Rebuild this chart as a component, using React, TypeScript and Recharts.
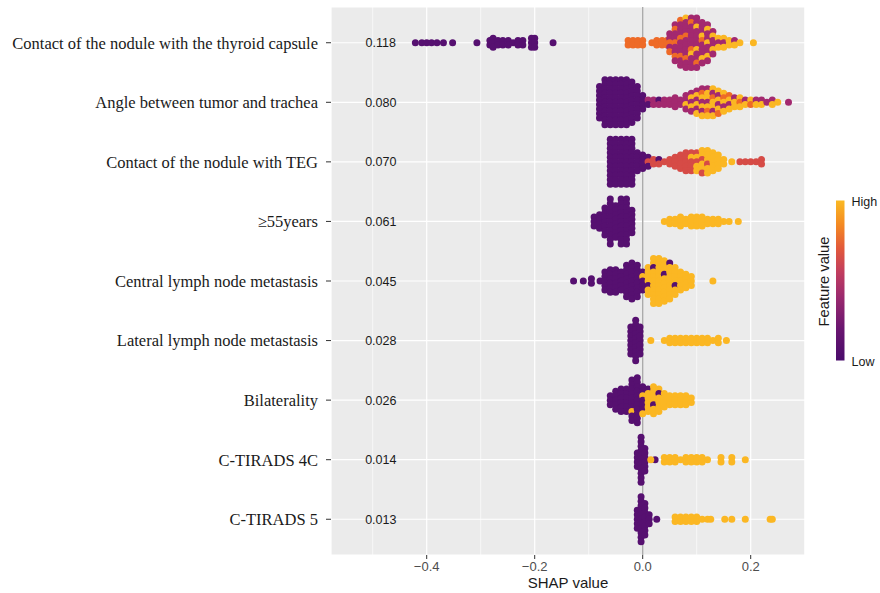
import React from 'react';
import { ScatterChart, Scatter, XAxis, YAxis, CartesianGrid, ReferenceLine, Label } from 'recharts';

const features = [
  'Contact of the nodule with the thyroid capsule',
  'Angle between tumor and trachea',
  'Contact of the nodule with TEG',
  '\u226555years',
  'Central lymph node metastasis',
  'Lateral lymph node metastasis',
  'Bilaterality',
  'C-TIRADS 4C',
  'C-TIRADS 5',
];
const importance = ['0.118', '0.080', '0.070', '0.061', '0.045', '0.028', '0.026', '0.014', '0.013'];
const xTicks = [-0.4, -0.2, 0, 0.2];
const minorX = [-0.5, -0.3, -0.1, 0.1, 0.3];
const rowTicks = [1, 2, 3, 4, 5, 6, 7, 8, 9];
// feature-value colour levels: 0 low ... 4 high
const palette = ['#561070', '#A3296F', '#D64B46', '#EE6A27', '#FBB723'];

// [SHAP value, number of samples, feature-value level]
type Bin = [number, number, number];
const capsuleBins: Bin[] = [
  [-0.421, 1, 0], [-0.409, 1, 0], [-0.4, 1, 0], [-0.391, 1, 0], [-0.381, 1, 0], [-0.369, 1, 0], [-0.352, 1, 0],
  [-0.307, 1, 0], [-0.283, 2, 0], [-0.277, 3, 0], [-0.268, 2, 0], [-0.259, 2, 0], [-0.249, 2, 0], [-0.24, 1, 0],
  [-0.231, 2, 0], [-0.222, 2, 0], [-0.206, 3, 0], [-0.2, 3, 0], [-0.166, 1, 0],
  [-0.027, 2, 3], [-0.018, 2, 3], [-0.009, 2, 3], [0.0, 2, 3], [0.017, 1, 3], [0.026, 2, 3], [0.036, 2, 3], [0.045, 2, 3],
  [0.05, 3, 1], [0.05, 2, 3],
  [0.06, 6, 1], [0.06, 3, 3],
  [0.07, 8, 1], [0.07, 3, 3],
  [0.08, 9, 1], [0.08, 2, 3], [0.08, 1, 4],
  [0.09, 9, 1], [0.09, 2, 3], [0.09, 1, 4],
  [0.1, 9, 1], [0.1, 1, 3], [0.1, 2, 4],
  [0.11, 7, 1], [0.11, 1, 3], [0.11, 2, 4],
  [0.12, 6, 1], [0.12, 3, 4],
  [0.13, 4, 1], [0.13, 2, 4],
  [0.14, 1, 1], [0.14, 2, 4],
  [0.15, 1, 1], [0.15, 2, 4],
  [0.16, 2, 4],
  [0.17, 1, 1], [0.17, 1, 4],
  [0.18, 1, 4],
  [0.205, 1, 4],
];
const angleBins: Bin[] = [
  [-0.08, 8, 0], [-0.07, 11, 0], [-0.06, 11, 0], [-0.05, 11, 0], [-0.04, 11, 0], [-0.03, 11, 0], [-0.02, 10, 0],
  [-0.01, 8, 0], [0.0, 4, 0],
  [0.01, 1, 0], [0.01, 1, 1], [0.02, 2, 1], [0.03, 1, 1], [0.03, 1, 0], [0.04, 2, 1], [0.05, 2, 1], [0.06, 3, 1], [0.07, 2, 1],
  [0.08, 3, 1], [0.08, 1, 4],
  [0.09, 3, 1], [0.09, 2, 4],
  [0.1, 3, 1], [0.1, 3, 4],
  [0.11, 3, 1], [0.11, 3, 4], [0.11, 1, 3],
  [0.12, 2, 1], [0.12, 4, 4], [0.12, 1, 3],
  [0.13, 2, 1], [0.13, 4, 4], [0.13, 1, 3],
  [0.14, 2, 1], [0.14, 3, 4], [0.14, 1, 3],
  [0.15, 1, 1], [0.15, 3, 4], [0.15, 1, 3],
  [0.16, 1, 1], [0.16, 2, 4], [0.16, 1, 3],
  [0.17, 1, 1], [0.17, 2, 4],
  [0.18, 2, 4], [0.18, 1, 3],
  [0.19, 1, 1], [0.19, 1, 4],
  [0.2, 1, 3], [0.2, 1, 4],
  [0.21, 1, 1], [0.21, 1, 4],
  [0.22, 1, 1], [0.22, 1, 4],
  [0.23, 1, 1],
  [0.24, 1, 4], [0.24, 1, 1],
  [0.25, 1, 4],
  [0.27, 1, 1],
];
const tegBins: Bin[] = [
  [-0.06, 11, 0], [-0.05, 11, 0], [-0.04, 11, 0], [-0.03, 11, 0], [-0.02, 11, 0], [-0.01, 5, 0], [0.0, 4, 0], [0.01, 2, 0],
  [0.01, 1, 2], [0.02, 2, 2], [0.03, 1, 0], [0.03, 1, 2], [0.04, 1, 2],
  [0.05, 2, 2], [0.06, 3, 2], [0.07, 4, 2], [0.08, 5, 2],
  [0.09, 4, 2], [0.09, 1, 4],
  [0.1, 2, 2], [0.1, 3, 4],
  [0.11, 2, 2], [0.11, 4, 4],
  [0.12, 1, 2], [0.12, 5, 4],
  [0.13, 5, 4], [0.14, 4, 4], [0.15, 2, 4], [0.165, 1, 4],
  [0.18, 1, 2], [0.19, 1, 2], [0.2, 1, 2], [0.21, 1, 2], [0.22, 2, 2],
];
const ageBins: Bin[] = [
  [-0.09, 3, 0], [-0.08, 4, 0], [-0.07, 7, 0], [-0.06, 11, 0], [-0.05, 8, 0], [-0.04, 11, 0], [-0.03, 11, 0], [-0.02, 6, 0],
  [0.04, 1, 4], [0.05, 2, 4], [0.06, 2, 4], [0.07, 3, 4], [0.08, 2, 4], [0.09, 3, 4], [0.1, 3, 4], [0.11, 3, 4],
  [0.12, 2, 4], [0.13, 2, 4], [0.14, 2, 4], [0.15, 1, 4], [0.16, 1, 4], [0.177, 1, 4],
];
const centralBins: Bin[] = [
  [-0.128, 1, 0], [-0.11, 1, 0], [-0.095, 2, 0], [-0.079, 1, 0], [-0.07, 5, 0], [-0.06, 6, 0], [-0.05, 6, 0],
  [-0.04, 5, 0], [-0.03, 8, 0], [-0.02, 9, 0], [-0.01, 8, 0], [0.0, 4, 0], [0.0, 1, 4],
  [0.01, 1, 0], [0.01, 6, 4], [0.02, 1, 0], [0.02, 10, 4], [0.03, 11, 4], [0.04, 1, 0], [0.04, 9, 4],
  [0.05, 1, 0], [0.05, 8, 4], [0.06, 1, 0], [0.06, 6, 4], [0.07, 5, 4], [0.08, 4, 4], [0.09, 3, 4], [0.13, 1, 4],
];
const lateralBins: Bin[] = [
  [-0.022, 7, 0], [-0.013, 10, 0], [-0.005, 7, 0],
  [0.015, 1, 4], [0.04, 1, 4], [0.05, 2, 4], [0.06, 2, 4], [0.07, 2, 4], [0.08, 2, 4], [0.09, 2, 4], [0.1, 2, 4],
  [0.11, 2, 4], [0.12, 2, 4], [0.13, 1, 4], [0.14, 2, 4], [0.155, 1, 4],
];
const bilateralBins: Bin[] = [
  [-0.06, 3, 0], [-0.05, 5, 0], [-0.04, 6, 0], [-0.03, 6, 0], [-0.02, 9, 0], [-0.02, 1, 4], [-0.01, 11, 0], [0.0, 5, 0],
  [0.0, 2, 4], [0.01, 1, 0], [0.01, 5, 4], [0.02, 1, 0], [0.02, 6, 4], [0.03, 1, 0], [0.03, 5, 4], [0.04, 4, 4],
  [0.05, 3, 4], [0.06, 3, 4], [0.07, 3, 4], [0.08, 3, 4], [0.09, 2, 4],
];
const tirads4cBins: Bin[] = [
  [-0.01, 4, 0], [-0.003, 11, 0], [0.004, 6, 0], [0.023, 1, 0],
  [0.015, 1, 4], [0.04, 2, 4], [0.05, 2, 4], [0.06, 2, 4], [0.07, 1, 4], [0.08, 2, 4], [0.09, 2, 4], [0.1, 2, 4],
  [0.11, 2, 4], [0.12, 1, 4], [0.145, 2, 4], [0.165, 2, 4], [0.19, 1, 4],
];
const tirads5Bins: Bin[] = [
  [-0.01, 5, 0], [-0.003, 11, 0], [0.004, 8, 0], [0.012, 3, 0], [0.026, 1, 0],
  [0.06, 2, 4], [0.07, 2, 4], [0.08, 2, 4], [0.09, 2, 4], [0.1, 2, 4], [0.11, 1, 4], [0.12, 1, 4], [0.126, 1, 4],
  [0.152, 1, 4], [0.165, 1, 4], [0.19, 1, 4], [0.236, 1, 4], [0.24, 1, 4],
];
const rowBins = [capsuleBins, angleBins, tegBins, ageBins, centralBins, lateralBins, bilateralBins, tirads4cBins, tirads5Bins];

const W = 880;
const H = 593;
const PLOT_TOP = 7;
const PLOT_BOTTOM = 555;
const PLOT_LEFT = 331;
const PLOT_RIGHT = 805;
const Y_DOMAIN: [number, number] = [0.4, 9.6];
const ROW_PX = (PLOT_BOTTOM - PLOT_TOP) / (Y_DOMAIN[1] - Y_DOMAIN[0]);
const STACK_PX = 4.5;
const DOT_R = 3.5;

type Pt = { x: number; y: number; color: string };

// swarm layout: samples sharing a SHAP bin are stacked vertically around the row centre
function buildPoints(): Pt[] {
  const pts: Pt[] = [];
  rowBins.forEach((bins, r) => {
    const cols = new Map<number, { c: number; k: number }[]>();
    let colIdx = 0;
    const colOrder = new Map<number, number>();
    bins.forEach(([x, n, c]) => {
      if (!colOrder.has(x)) colOrder.set(x, colIdx++);
      const ci = colOrder.get(x) as number;
      const phase = (((ci * 0.618 + c * 0.37 + r * 0.29) % 1) + 1) % 1;
      const arr = cols.get(x) ?? [];
      for (let j = 0; j < n; j++) arr.push({ c, k: (j + phase) / n });
      cols.set(x, arr);
    });
    cols.forEach((arr, x) => {
      arr.sort((a, b) => a.k - b.k || a.c - b.c);
      const n = arr.length;
      arr.forEach((p, i) => {
        const off = ((i - (n - 1) / 2) * STACK_PX) / ROW_PX;
        pts.push({ x, y: r + 1 + off, color: palette[p.c] });
      });
    });
  });
  return pts;
}

const points = buildPoints();
const labelPoints = importance.map((label, i) => ({ x: -0.485, y: i + 1, label }));

const fmtX = (v: number) => (v === 0 ? '0.0' : (v < 0 ? '\u2212' : '') + Math.abs(v).toFixed(1));

const Dot = (props: any) => {
  const { cx, cy, payload } = props;
  if (cx == null || cy == null) return null;
  return <circle cx={cx} cy={cy} r={DOT_R} fill={payload.color} />;
};

const TextMark = (props: any) => {
  const { cx, cy, payload } = props;
  if (cx == null || cy == null) return null;
  return (
    <text x={cx} y={cy} dy="0.36em" textAnchor="middle" fontSize={12.5} fontFamily="'Liberation Sans', Arial, sans-serif" fill="#1a1a1a">
      {payload.label}
    </text>
  );
};

const xDomain: [number, number] = [(PLOT_LEFT - 642.7) / 540, (PLOT_RIGHT - 642.7) / 540];

export default function App() {
  return (
    <div style={{ position: 'absolute', left: 0, top: 0, width: W, height: H, background: '#fff' }}>
      <ScatterChart width={W} height={H} margin={{ top: PLOT_TOP, right: W - PLOT_RIGHT, bottom: 0, left: 0 }}>
        <CartesianGrid fill="#EBEBEB" fillOpacity={1} stroke="#FFFFFF" strokeWidth={1.2} />
        {minorX.map((v) => (
          <ReferenceLine key={v} x={v} stroke="#FFFFFF" strokeWidth={0.6} ifOverflow="extendDomain" />
        ))}
        <ReferenceLine x={0} stroke="#ABABAB" strokeWidth={1.4} />
        <XAxis
          type="number"
          dataKey="x"
          domain={xDomain}
          allowDataOverflow
          ticks={xTicks}
          tickFormatter={fmtX}
          height={H - PLOT_BOTTOM}
          axisLine={false}
          tickLine={{ stroke: '#333333' }}
          tickSize={4}
          tickMargin={3}
          interval={0}
          tick={{ fontSize: 13, fill: '#4D4D4D', fontFamily: "'Liberation Sans', Arial, sans-serif" }}
        >
          <Label
            value="SHAP value"
            position="insideBottom"
            offset={5}
            style={{ fontSize: 15, fill: '#1a1a1a', fontFamily: "'Liberation Sans', Arial, sans-serif" }}
          />
        </XAxis>
        <YAxis
          type="number"
          dataKey="y"
          domain={Y_DOMAIN}
          allowDataOverflow
          reversed
          ticks={rowTicks}
          interval={0}
          tickFormatter={(v: number) => features[Math.round(v) - 1] ?? ''}
          width={PLOT_LEFT}
          axisLine={false}
          tickLine={{ stroke: '#333333' }}
          tickSize={5}
          tickMargin={8}
          tick={{ fontSize: 16.5, fill: '#1a1a1a', fontFamily: "'Liberation Serif', 'Times New Roman', serif" }}
        />
        <Scatter data={points} shape={Dot} isAnimationActive={false} />
        <Scatter data={labelPoints} shape={TextMark} isAnimationActive={false} />
      </ScatterChart>
      <svg width={W} height={H} style={{ position: 'absolute', left: 0, top: 0, pointerEvents: 'none' }}>
        <defs>
          <linearGradient id="fvGrad" x1="0" y1="1" x2="0" y2="0">
            <stop offset="0" stopColor="#4A0C6B" />
            <stop offset="0.2" stopColor="#6A1670" />
            <stop offset="0.4" stopColor="#9C2A6E" />
            <stop offset="0.55" stopColor="#C13D5F" />
            <stop offset="0.7" stopColor="#E2593B" />
            <stop offset="0.85" stopColor="#F48A22" />
            <stop offset="1" stopColor="#FAB923" />
          </linearGradient>
        </defs>
        <rect x={836} y={200.5} width={8.5} height={160} fill="url(#fvGrad)" />
        <text x={851.5} y={201.7} dy="0.36em" fontSize={12.5} fill="#1a1a1a" fontFamily="'Liberation Sans', Arial, sans-serif">High</text>
        <text x={851.5} y={361.5} dy="0.36em" fontSize={12.5} fill="#1a1a1a" fontFamily="'Liberation Sans', Arial, sans-serif">Low</text>
        <text
          x={823.5}
          y={281.5}
          dy="0.36em"
          textAnchor="middle"
          fontSize={14.7}
          fill="#1a1a1a"
          fontFamily="'Liberation Sans', Arial, sans-serif"
          transform="rotate(-90 823.5 281.5)"
        >
          Feature value
        </text>
      </svg>
    </div>
  );
}
